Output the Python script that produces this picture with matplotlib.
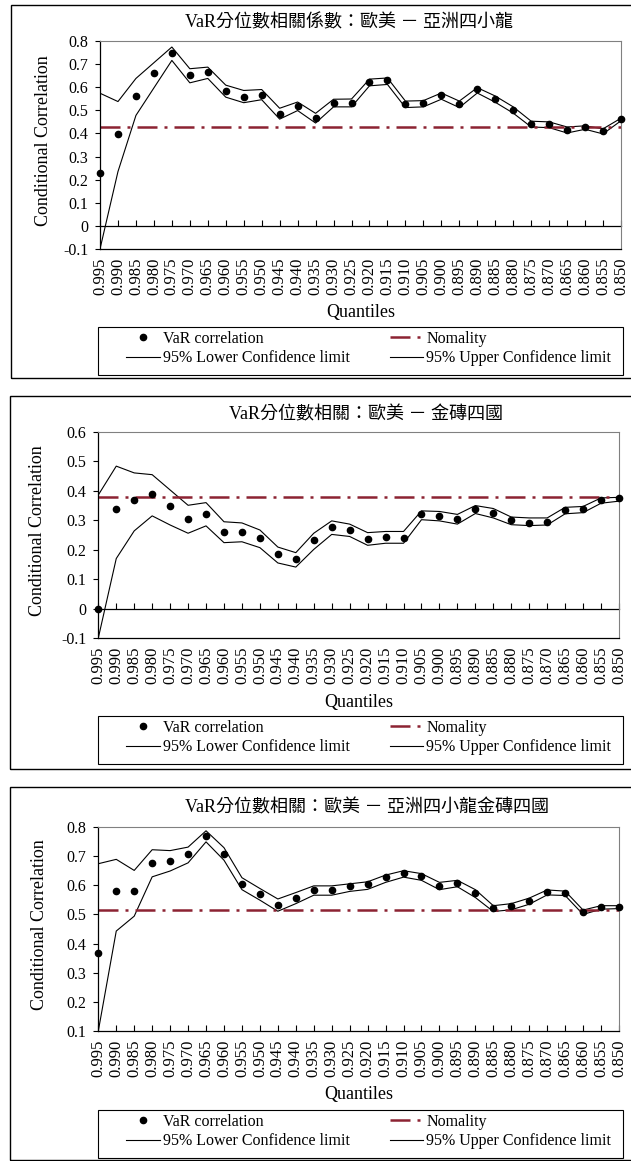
import numpy as np
import matplotlib
matplotlib.use("Agg")
import matplotlib.pyplot as plt
from matplotlib.patches import Rectangle
from matplotlib.lines import Line2D
from matplotlib.ticker import FuncFormatter

plt.rcParams['font.family'] = ['Liberation Serif', 'Noto Sans CJK TC']

quantiles = ["0.995", "0.990", "0.985", "0.980", "0.975", "0.970", "0.965", "0.960",
             "0.955", "0.950", "0.945", "0.940", "0.935", "0.930", "0.925", "0.920",
             "0.915", "0.910", "0.905", "0.900", "0.895", "0.890", "0.885", "0.880",
             "0.875", "0.870", "0.865", "0.860", "0.855", "0.850"]

# panel 1: 歐美 - 亞洲四小龍
corr1 = [0.230, 0.397, 0.564, 0.661, 0.748, 0.651, 0.665, 0.584, 0.559, 0.568,
         0.484, 0.517, 0.468, 0.532, 0.532, 0.623, 0.632, 0.528, 0.532, 0.565,
         0.528, 0.591, 0.551, 0.503, 0.442, 0.439, 0.416, 0.428, 0.412, 0.462]
low1 = [-0.100, 0.235, 0.478, 0.597, 0.716, 0.619, 0.638, 0.557, 0.533, 0.546,
        0.462, 0.499, 0.445, 0.515, 0.515, 0.606, 0.612, 0.512, 0.515, 0.548,
        0.512, 0.575, 0.535, 0.488, 0.428, 0.425, 0.402, 0.418, 0.398, 0.455]
up1 = [0.574, 0.538, 0.638, 0.706, 0.774, 0.680, 0.687, 0.609, 0.586, 0.590,
       0.509, 0.536, 0.487, 0.548, 0.549, 0.635, 0.640, 0.540, 0.542, 0.575,
       0.540, 0.598, 0.562, 0.515, 0.453, 0.450, 0.428, 0.433, 0.420, 0.466]
norm1 = 0.428

# panel 2: 歐美 - 金磚四國
corr2 = [0.000, 0.339, 0.368, 0.388, 0.348, 0.306, 0.323, 0.259, 0.259, 0.240,
         0.185, 0.168, 0.234, 0.276, 0.266, 0.238, 0.244, 0.240, 0.320, 0.313,
         0.303, 0.340, 0.326, 0.300, 0.292, 0.295, 0.336, 0.339, 0.368, 0.375]
low2 = [-0.100, 0.170, 0.264, 0.315, 0.284, 0.256, 0.281, 0.224, 0.227, 0.207,
        0.155, 0.141, 0.201, 0.252, 0.245, 0.215, 0.222, 0.222, 0.302, 0.298,
        0.287, 0.323, 0.308, 0.285, 0.282, 0.284, 0.322, 0.326, 0.358, 0.365]
up2 = [0.386, 0.484, 0.461, 0.455, 0.403, 0.351, 0.360, 0.295, 0.291, 0.267,
       0.209, 0.190, 0.256, 0.298, 0.287, 0.258, 0.262, 0.262, 0.332, 0.330,
       0.320, 0.350, 0.340, 0.311, 0.308, 0.308, 0.344, 0.347, 0.376, 0.378]
norm2 = 0.379

# panel 3: 歐美 - 亞洲四小龍金磚四國
corr3 = [0.369, 0.579, 0.579, 0.678, 0.685, 0.707, 0.770, 0.709, 0.606, 0.570,
         0.534, 0.557, 0.583, 0.583, 0.598, 0.603, 0.627, 0.643, 0.632, 0.599,
         0.609, 0.573, 0.521, 0.528, 0.547, 0.577, 0.573, 0.507, 0.525, 0.525]
low3 = [0.100, 0.443, 0.494, 0.629, 0.649, 0.677, 0.749, 0.686, 0.585, 0.549,
        0.511, 0.537, 0.566, 0.566, 0.579, 0.586, 0.610, 0.628, 0.617, 0.585,
        0.595, 0.558, 0.510, 0.516, 0.535, 0.567, 0.565, 0.500, 0.518, 0.520]
up3 = [0.674, 0.689, 0.651, 0.722, 0.719, 0.731, 0.787, 0.729, 0.626, 0.589,
       0.553, 0.575, 0.598, 0.598, 0.605, 0.612, 0.635, 0.650, 0.640, 0.610,
       0.617, 0.585, 0.530, 0.537, 0.556, 0.584, 0.580, 0.515, 0.530, 0.530]
norm3 = 0.514

titles = ["VaR分位數相關係數：歐美 － 亞洲四小龍",
          "VaR分位數相關：歐美 － 金磚四國",
          "VaR分位數相關：歐美 － 亞洲四小龍金磚四國"]
labels = ["VaR correlation", "95% Lower Confidence limit",
          "Nomality", "95% Upper Confidence limit"]

W, H = 631, 1161
RED = '#8c2332'


def fx(px):
    return px / W


def fy(py):
    return 1 - py / H


fig = plt.figure(figsize=(W / 100, H / 100), dpi=100)

# layout in pixels: (box_left, box_top, box_bottom, ax_left, ax_right, ax_top, ax_bottom,
#                    title_x, title_y, ylab_x, leg_top, ylo, yhi)
layout = [
    (11, 5, 378, 100, 621, 41, 249, 349, 23, 43, 327, -0.1, 0.8),
    (9.5, 396, 769, 98.3, 619, 432, 638, 366, 415, 38, 716, -0.1, 0.6),
    (10, 787, 1160, 98.3, 619, 827, 1031, 367, 808, 40, 1110, 0.1, 0.8),
]
series = [(corr1, low1, up1, norm1), (corr2, low2, up2, norm2), (corr3, low3, up3, norm3)]

x = np.arange(len(quantiles))
dash = (0, (8, 2.8, 1.2, 2.8))

for i in range(3):
    bl, bt, bb, al, ar, at, ab, tx, ty, ylx, lt, ylo, yhi = layout[i]
    corr, low, up, norm = series[i]

    # outer chart border
    fig.add_artist(Rectangle((fx(bl), fy(bb)), fx(W + 20 - bl), (bb - bt) / H,
                             transform=fig.transFigure, fill=False, ec='k', lw=1.0))

    ax = fig.add_axes([fx(al), fy(ab), (ar - al) / W, (ab - at) / H])
    ax.plot(x, low, color='k', lw=0.8)
    ax.plot(x, up, color='k', lw=0.8)
    ax.plot(x, corr, 'o', color='k', ms=4.5, clip_on=False, zorder=5)
    ax.axhline(norm, color=RED, lw=1.8, ls=dash)
    ax.set_xlim(0, len(quantiles) - 1)
    ax.set_ylim(ylo, yhi)
    ax.set_xticks(x)
    ax.set_xticklabels(quantiles, rotation=90)
    ax.set_yticks(np.round(np.arange(ylo, yhi + 0.001, 0.1), 1))
    ax.yaxis.set_major_formatter(FuncFormatter(lambda v, p: f"{v:g}"))
    ax.tick_params(axis='y', direction='out', length=3.5, width=0.8, pad=5, labelsize=11.5)
    for s in ['top', 'right']:
        ax.spines[s].set_color('#808080')
        ax.spines[s].set_linewidth(0.8)
    for s in ['left', 'bottom']:
        ax.spines[s].set_linewidth(0.9)

    if ylo < 0:
        ax.tick_params(axis='x', length=0, pad=6, labelsize=12)
        sec = ax.secondary_xaxis((0 - ylo) / (yhi - ylo))
        sec.set_xticks(x)
        sec.tick_params(axis='x', direction='in', length=4, width=0.8,
                        labelbottom=False, labeltop=False)
        sec.spines['bottom'].set_linewidth(0.9)
    else:
        ax.tick_params(axis='x', direction='in', length=4, width=0.8, pad=6, labelsize=12)

    fig.text(fx(tx), fy(ty), titles[i], ha='center', va='center', fontsize=13)
    fig.text(fx(ylx), fy((at + ab) / 2 - 4), 'Conditional Correlation', rotation=90,
             ha='center', va='center', fontsize=13)
    fig.text(fx((al + ar) / 2), fy(ab + 64), 'Quantiles', ha='center', va='center', fontsize=13)

    # legend box
    fig.add_artist(Rectangle((fx(98), fy(lt + 48)), fx(623 - 98), 48 / H,
                             transform=fig.transFigure, fill=False, ec='k', lw=0.8))
    handles = [Line2D([], [], marker='o', ls='none', color='k', ms=4.5),
               Line2D([], [], color='k', lw=0.8),
               Line2D([], [], color=RED, lw=1.8, ls=dash),
               Line2D([], [], color='k', lw=0.8)]
    fig.legend(handles, labels, ncol=2, loc='upper left',
               bbox_to_anchor=(fx(126), fy(lt + 4)), frameon=False,
               borderpad=0, borderaxespad=0, handlelength=2.1, handletextpad=0.2,
               columnspacing=2.5, labelspacing=0.2, fontsize=11.5)

fig.savefig("out.png", dpi=100)
